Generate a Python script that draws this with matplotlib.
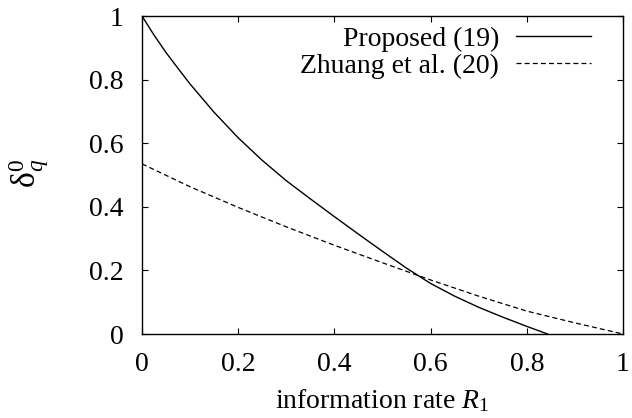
import matplotlib

matplotlib.use('Agg')
from matplotlib import pyplot as plt
from matplotlib.ticker import FuncFormatter

# values
rate_proposed = [0, 0.025, 0.05, 0.075, 0.1, 0.15, 0.2, 0.25, 0.3, 0.35, 0.4, 0.45,
                 0.5, 0.55, 0.6, 0.65, 0.7, 0.75, 0.8, 0.843]
delta_proposed = [1.0, 0.94, 0.885, 0.835, 0.786, 0.697, 0.617, 0.546, 0.482, 0.425, 0.369, 0.314,
                  0.26, 0.207, 0.159, 0.119, 0.084, 0.053, 0.024, 0.0]

rate_zhuang = [0, 0.1, 0.2, 0.3, 0.4, 0.5, 0.6, 0.7, 0.8, 0.9, 1.0]
delta_zhuang = [0.535, 0.463, 0.398, 0.337, 0.279, 0.224, 0.17, 0.119, 0.072, 0.035, 0.0]

ticks = [0, 0.2, 0.4, 0.6, 0.8, 1]

plt.rcParams['font.family'] = ['Liberation Serif', 'DejaVu Serif']
plt.rcParams['mathtext.fontset'] = 'custom'
plt.rcParams['mathtext.rm'] = 'Liberation Serif'
plt.rcParams['mathtext.it'] = 'Liberation Serif:italic'
plt.rcParams['font.size'] = 20

fig = plt.figure(figsize=(6.32, 4.18), dpi=100)
ax = fig.add_axes([142 / 632, 1 - 334 / 418, 481 / 632, 318 / 418])

ax.plot(rate_proposed, delta_proposed, color='black', lw=1.0, label='Proposed (19)')
ax.plot(rate_zhuang, delta_zhuang, color='black', lw=0.9, linestyle=(0, (4, 2.5)),
        label='Zhuang et al. (20)')

ax.set_xlim(0, 1)
ax.set_ylim(0, 1)
ax.set_xticks(ticks)
ax.set_yticks(ticks)
fmt = FuncFormatter(lambda v, p: '%g' % v)
ax.xaxis.set_major_formatter(fmt)
ax.yaxis.set_major_formatter(fmt)
ax.tick_params(direction='in', length=4.5, width=0.8, top=True, right=True)
ax.tick_params(axis='x', pad=13)
ax.tick_params(axis='y', pad=13)
for s in ax.spines.values():
    s.set_linewidth(1.0)

ax.set_xlabel(r'information rate $R_1$', va='center')
ax.xaxis.set_label_coords(0.5, -0.21)
ax.set_ylabel(r'$\mathrm{\delta}_q^0$', fontsize=24, ha='center', va='center')
ax.yaxis.set_label_coords(-0.235, 0.506)

ax.legend(loc='upper right', bbox_to_anchor=(0.933, 0.968), frameon=False,
          markerfirst=False, handlelength=2.7, handletextpad=0.6,
          borderpad=0, borderaxespad=0, labelspacing=0.07)

fig.savefig('out.png', dpi=100)
